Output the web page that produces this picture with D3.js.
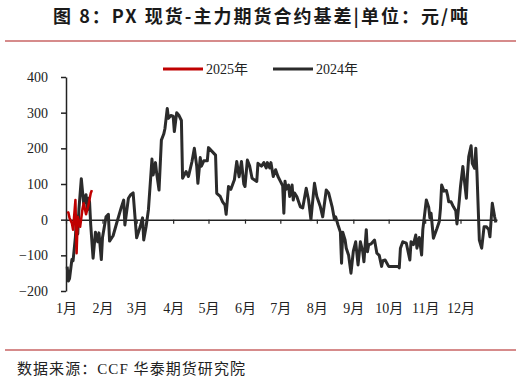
<!DOCTYPE html>
<html><head><meta charset="utf-8">
<script src="https://cdn.jsdelivr.net/npm/d3@7"></script>
<style>
body{margin:0;background:#fff;}
svg{display:block;}
</style></head>
<body><svg id="c" width="521" height="379"></svg>
<script>
const title = "图 8：PX 现货-主力期货合约基差|单位：元/吨";
const source = "数据来源：CCF 华泰期货研究院";
const seriesNames = ["2025年", "2024年"];
const yTicks = [-200, -100, 0, 100, 200, 300, 400];

const dates2024 = ["01-02","01-03","01-04","01-06","01-07","01-09","01-10","01-11","01-12","01-14","01-15","01-16","01-18","01-19","01-20","01-21","01-22","01-24","01-26","01-28","01-29","01-31",
"02-01","02-04","02-06","02-07","02-10","02-13","02-17","02-19","02-20","02-23","02-25","02-27","02-29",
"03-01","03-04","03-06","03-07","03-09","03-11","03-14","03-15","03-17","03-18","03-20","03-22","03-24","03-25","03-27","03-28","03-30",
"04-01","04-02","04-04","04-06","04-08","04-09","04-12","04-14","04-17","04-19","04-21","04-22","04-24","04-25","04-27","04-30",
"05-01","05-07","05-08","05-11","05-13","05-15","05-16","05-18","05-20","05-23","05-25","05-27","05-29","05-31",
"06-01","06-03","06-05","06-07","06-11","06-12","06-15","06-17","06-19","06-20","06-22","06-23","06-25","06-27","06-29",
"07-01","07-03","07-04","07-05","07-06","07-08","07-09","07-11","07-12","07-13","07-15","07-18","07-20","07-23","07-25","07-27","07-28","07-30",
"08-01","08-04","08-06","08-09","08-11","08-14","08-16","08-17","08-19","08-21","08-22","08-23","08-25","08-26","08-28","08-30",
"09-01","09-03","09-05","09-07","09-09","09-10","09-12","09-13","09-14","09-16","09-19","09-21","09-23","09-25","09-26","09-28",
"10-01","10-09","10-10","10-11","10-13","10-16","10-19","10-20","10-22","10-24","10-25","10-27","10-29","10-30",
"11-02","11-04","11-05","11-06","11-08","11-11","11-13","11-14","11-15","11-17","11-19","11-20","11-21","11-23","11-25","11-27","11-28","11-30",
"12-01","12-03","12-06","12-07","12-08","12-10","12-11","12-13","12-14","12-15","12-17","12-19","12-21","12-23","12-25","12-26","12-28","12-30","12-31"];
const values2024 = [-132,-172,-165,-112,-115,-48,10,-40,30,115,80,45,70,28,60,50,-15,-108,-35,-62,-37,-112,
-50,8,15,-60,-45,-10,35,55,-15,60,70,75,-10,
-51,-20,5,-57,-20,28,170,125,160,130,83,223,240,255,312,284,292,
290,247,300,292,278,116,135,121,163,200,150,102,174,150,165,165,
202,181,74,65,50,41,15,93,85,112,163,120,163,100,
93,167,150,116,107,158,150,160,145,160,145,160,121,140,121,
108,95,18,108,85,97,65,97,55,75,65,36,33,88,55,0,36,102,
65,36,8,83,75,36,0,8,-15,-35,-122,-35,-57,-80,-100,-150,
-88,-62,-127,-62,-90,-118,-28,-90,-71,-68,-57,-94,-100,-131,-115,-113,
-131,-131,-135,-80,-62,-66,-113,-62,-70,-43,-80,-50,-99,-28,
55,35,5,18,-52,-25,-5,32,97,80,82,69,50,50,36,25,-12,55,
93,149,60,130,177,207,158,144,200,130,-57,-80,-20,-20,-28,-48,46,8,-8];

const dates2025 = ["01-02","01-03","01-04","01-06","01-07","01-09","01-10","01-11","01-13","01-15","01-16","01-18","01-20","01-22","01-23"];
const values2025 = [22,20,5,-10,-28,55,-94,8,-20,30,46,15,40,74,83];

const svg = d3.select("#c");
const serif = "'Liberation Serif','Times New Roman','Noto Sans CJK SC',serif";
const cjkSerif = "'Liberation Serif','Noto Sans CJK SC',serif";

// title
svg.append("text").attr("x", 53).attr("y", 23)
  .attr("font-family", "'Noto Sans CJK SC','Noto Sans',sans-serif").attr("font-weight", "bold")
  .attr("font-size", 18).attr("fill", "#1a1a1a")
  .attr("textLength", 415).attr("lengthAdjust", "spacing").text(title);
svg.append("line").attr("x1", 5).attr("x2", 516).attr("y1", 41).attr("y2", 41)
  .attr("stroke", "#c86464").attr("stroke-width", 1.5);
svg.append("line").attr("x1", 5).attr("x2", 516).attr("y1", 350).attr("y2", 350)
  .attr("stroke", "#c86464").attr("stroke-width", 1.5);
svg.append("text").attr("x", 17).attr("y", 374).attr("font-family", cjkSerif)
  .attr("font-size", 15).attr("fill", "#222")
  .attr("textLength", 228).attr("lengthAdjust", "spacing").text(source);

const x = d3.scaleTime().domain([new Date(2024,0,1), new Date(2025,0,1)]).range([66, 497]);
const y = d3.scaleLinear().domain([-200, 400]).range([291, 77]);

const parse = s => { const [m, d] = s.split("-").map(Number); return new Date(2024, m-1, d); };
const d24 = dates2024.map((s, i) => ({ t: parse(s), v: values2024[i] }));
const d25 = dates2025.map((s, i) => ({ t: parse(s), v: values2025[i] }));

// y axis
const ya = svg.append("g").attr("transform", "translate(66,0)")
  .call(d3.axisLeft(y).tickValues(yTicks).tickSize(5).tickSizeOuter(0).tickPadding(13).tickFormat(d3.format("d")));
ya.select(".domain").attr("stroke", "#222").attr("stroke-width", 1.5);
ya.selectAll(".tick line").attr("stroke", "#222").attr("stroke-width", 1.5);
ya.selectAll("text").attr("font-family", serif).attr("font-size", 14).attr("fill", "#222");

// zero axis with month ticks
const months = d3.timeMonth.range(new Date(2024,0,1), new Date(2025,0,1));
const xa = svg.append("g").attr("transform", `translate(0,${y(0)})`)
  .call(d3.axisBottom(x).tickValues(months).tickSize(4).tickSizeOuter(0).tickFormat(""));
xa.select(".domain").attr("stroke", "#222").attr("stroke-width", 1.5);
xa.selectAll(".tick line").attr("stroke", "#222").attr("stroke-width", 1.2);

// month labels
const xl = svg.append("g").attr("transform", "translate(0,291)")
  .call(d3.axisBottom(x).tickValues(months).tickSize(0).tickPadding(12).tickFormat(d => (d.getMonth()+1) + "月"));
xl.select(".domain").remove();
xl.selectAll("text").attr("font-family", cjkSerif).attr("font-size", 14).attr("fill", "#222");

// lines
const line = d3.line().x(d => x(d.t)).y(d => y(d.v));
svg.append("path").datum(d24).attr("d", line).attr("fill", "none")
  .attr("stroke", "#2b2b2b").attr("stroke-width", 3).attr("stroke-linejoin", "round");
svg.append("path").datum(d25).attr("d", line).attr("fill", "none")
  .attr("stroke", "#c00000").attr("stroke-width", 2.5).attr("stroke-linejoin", "round");

// legend
const leg = [{n: seriesNames[0], c: "#c00000", x: 163}, {n: seriesNames[1], c: "#2b2b2b", x: 273}];
const lg = svg.append("g");
leg.forEach(l => {
  lg.append("line").attr("x1", l.x).attr("x2", l.x + 40).attr("y1", 69).attr("y2", 69)
    .attr("stroke", l.c).attr("stroke-width", 3);
  lg.append("text").attr("x", l.x + 43).attr("y", 74).attr("font-family", cjkSerif)
    .attr("font-size", 14).attr("fill", "#222").text(l.n);
});
</script></body></html>
